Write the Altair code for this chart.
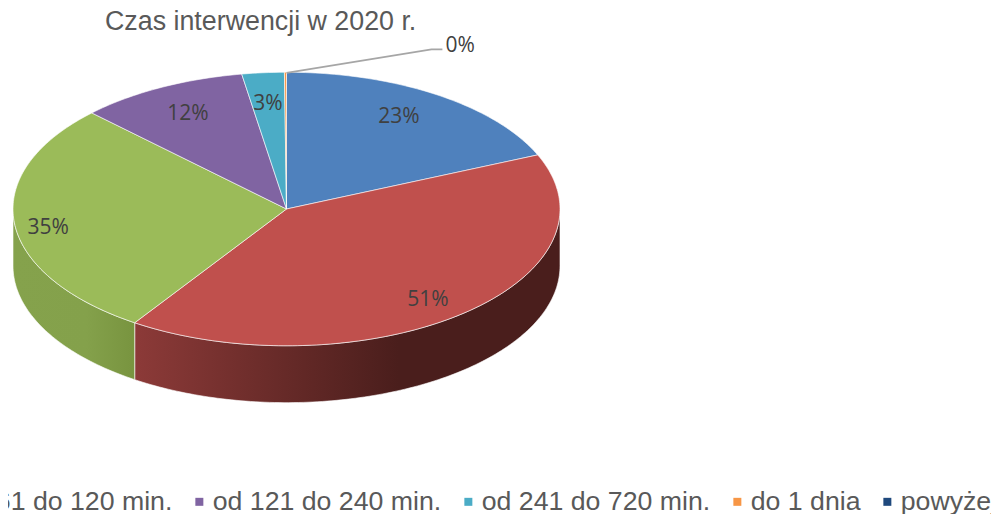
import math
import altair as alt

categories = ["do 30 min.", "od 31 do 60 min.", "od 61 do 120 min.", "od 121 do 240 min.",
              "od 241 do 720 min.", "do 1 dnia", "powyżej 1 dnia"]
values = [23, 50.7, 34.8, 12.4, 3.1, 0.15, 0]
colors = ["#4F81BD", "#C0504D", "#9BBB59", "#8064A2", "#4BACC6", "#F79646", "#1F497D"]
label_radial = [(0.748, 0.841), (0.808, 0.828), (0.876, 1.08), (0.783, 0.815), (0.786, 0.80), None, None]

SQUASH = 0.5      # ellipse ratio of the tilted pie
DEPTH = 0.208     # wall height in radius units
total = sum(values)


def pt(turn, dz=0.0):
    a = turn * 2 * math.pi
    return [math.sin(a), math.cos(a) * SQUASH - dz]


def arc(t0, t1, dz=0.0):
    n = max(2, int(abs(t1 - t0) * 360))
    return [pt(t0 + (t1 - t0) * i / n, dz) for i in range(n + 1)]


def feature(cat, ring):
    return {"type": "Feature", "properties": {"cat": cat},
            "geometry": {"type": "Polygon", "coordinates": [ring]}}


bounds = []
c = 0.0
for v in values:
    bounds.append((c, c + v / total))
    c += v / total

top_features = [feature(cat, [[0, 0]] + arc(a, b) + [[0, 0]])
                for cat, (a, b), v in zip(categories, bounds, values) if v > 0]


def wall(t0, t1, cat):
    return feature(cat, arc(t0, t1) + arc(t1, t0, DEPTH) + [pt(t0)])


projection = dict(type="identity", reflectY=True, scale=273.5, translate=[278.5, 201])
edge = dict(stroke="#ffffff", strokeWidth=0.8, strokeOpacity=0.75)


def data(features):
    return alt.InlineData(values=features, format=alt.DataFormat(type="json"))


red_grad = alt.LinearGradient(gradient="linear", x1=0, x2=1, y1=0, y2=0, stops=[
    alt.GradientStop(color="#8C3A38", offset=0),
    alt.GradientStop(color="#4A1E1C", offset=0.62),
    alt.GradientStop(color="#4A1E1C", offset=1)])
green_grad = alt.LinearGradient(gradient="linear", x1=0, x2=1, y1=0, y2=0, stops=[
    alt.GradientStop(color="#85A24C", offset=0),
    alt.GradientStop(color="#84A14B", offset=0.6),
    alt.GradientStop(color="#78943F", offset=1)])

wall_red = alt.Chart(data([wall(0.25, bounds[1][1], categories[1])])).mark_geoshape(fill=red_grad, **edge).project(**projection)
wall_green = alt.Chart(data([wall(bounds[1][1], 0.75, categories[2])])).mark_geoshape(fill=green_grad, **edge).project(**projection)

top = alt.Chart(data(top_features)).mark_geoshape(**edge).encode(
    color=alt.Color("properties.cat:N",
                    scale=alt.Scale(domain=categories, range=colors),
                    legend=alt.Legend(orient="none", legendX=-480, legendY=480, direction="horizontal",
                                      columns=7, title=None, symbolType="square", symbolSize=64,
                                      symbolStrokeWidth=0, labelFont="Liberation Sans", labelFontSize=26.7,
                                      labelColor="#595959", labelLimit=400, labelOffset=0,
                                      columnPadding=13, symbolOpacity=1))
).project(**projection)

label_rows = []
for cat, (a, b), v, r in zip(categories, bounds, values, label_radial):
    if r is None:
        continue
    m = (a + b) / 2
    x, y = pt(m)
    label_rows.append({"lon": x * r[0], "lat": y * r[1], "t": f"{round(v)}%"})
labels = alt.Chart(alt.InlineData(values=label_rows)).mark_text(
    font="Open Sans", fontSize=21, color="#404040", align="center", baseline="middle", dy=4
).encode(longitude="lon:Q", latitude="lat:Q", text="t:N").project(**projection)

# leader line and its "0%" label, in the same unit coordinates as the pie
lead = [[0.0, 0.5 - 0.002], [0.53, 0.584], [0.57, 0.584]]
leader = alt.Chart(alt.InlineData(values=[{"type": "Feature", "properties": {},
                   "geometry": {"type": "LineString", "coordinates": lead}}],
                   format=alt.DataFormat(type="json"))).mark_geoshape(
    filled=False, stroke="#A6A6A6", strokeWidth=1.8).project(**projection)
zero = alt.Chart(alt.InlineData(values=[{"lon": 0.635, "lat": 0.606, "t": "0%"}])).mark_text(
    font="Open Sans", fontSize=21, color="#404040", align="center", baseline="middle", dy=3
).encode(longitude="lon:Q", latitude="lat:Q", text="t:N").project(**projection)

chart = alt.layer(wall_red, wall_green, top, labels, leader, zero).properties(
    width=983, height=506,
    padding=0,
    autosize=alt.AutoSizeParams(type="none"),
    title=alt.TitleParams("Czas interwencji w 2020 r.", anchor="start", frame="group", dx=97, offset=-28,
                          font="Liberation Sans", fontSize=26.8, fontWeight="normal", color="#595959"),
    background="white",
).configure_view(stroke=None)

chart.save("out.html", embed_options={"renderer": "svg", "actions": False})
